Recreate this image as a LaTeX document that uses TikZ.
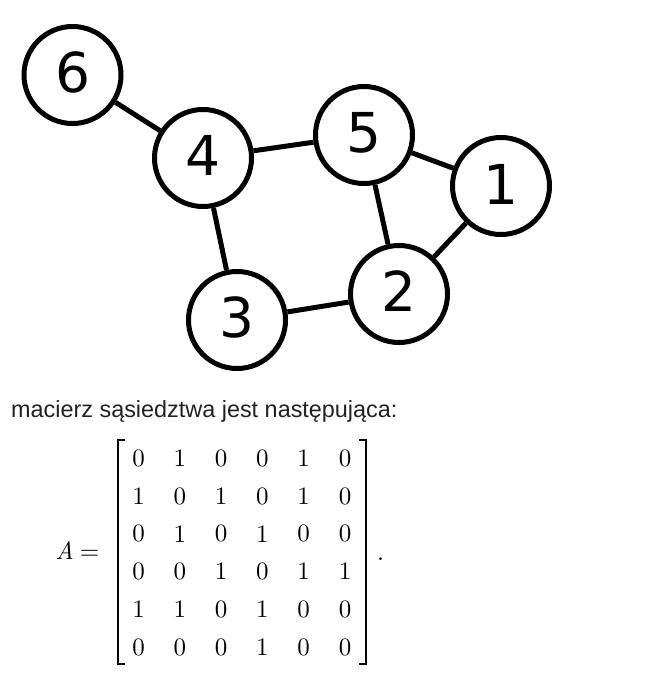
\documentclass[tikz,border=0pt]{standalone}
\usepackage{fontspec}
\newfontfamily\arialf{Liberation Sans}
\newfontfamily\dejavu{DejaVu Sans}
\newfontfamily\lmr{lmroman10-regular}[Extension=.otf,ItalicFont=lmroman10-italic]
\definecolor{txtgray}{HTML}{202122}
\begin{document}
\begin{tikzpicture}[x=1pt,y=-1pt,
  vert/.style={circle,draw,line width=5pt,minimum size=97pt,inner sep=0pt,fill=white,
    font=\dejavu\fontsize{55}{60}\selectfont},
  edge/.style={line width=5pt},
  cell/.style={inner sep=0pt,anchor=center,font=\lmr\fontsize{25}{28}\selectfont},
  brk/.style={line width=2pt}]
\useasboundingbox (0,0) rectangle (668,687);
% graph
\node[vert] (n6) at (72.5,75) {\raisebox{5pt}{6}};
\node[vert] (n4) at (203,158) {\raisebox{5pt}{4}};
\node[vert] (n5) at (364,135) {\raisebox{5pt}{5}};
\node[vert] (n1) at (501,186) {\raisebox{4pt}{1}};
\node[vert] (n2) at (399,294) {\raisebox{5pt}{2}};
\node[vert] (n3) at (237,320) {\raisebox{6pt}{3}};
\draw[edge] (n6) -- (n4);
\draw[edge] (n4) -- (n5);
\draw[edge] (n4) -- (n3);
\draw[edge] (n5) -- (n1);
\draw[edge] (n5) -- (n2);
\draw[edge] (n1) -- (n2);
\draw[edge] (n3) -- (n2);
% sentence
\node[anchor=base west,inner sep=0pt,text=txtgray,font=\arialf\fontsize{23.4}{28}\selectfont] (txt) at (11,417) {macierz sąsiedztwa jest następująca:};
% matrix
\node[anchor=base east,inner sep=0pt,font=\lmr\fontsize{25}{28}\selectfont] (lhs) at (99.5,559) {\textit{A}\hspace{6pt}=};
\foreach \row [count=\i] in {{0,1,0,0,1,0},{1,0,1,0,1,0},{0,1,0,1,0,0},{0,0,1,0,1,1},{1,1,0,1,0,0},{0,0,0,1,0,0}}{
  \foreach \v [count=\j] in \row {
    \node[cell] (m\i\j) at ({138.5+41.3*(\j-1)},{458.5+37.7*(\i-1)}) {\v};
  }
}
\draw[brk] (125,440) -- (118,440) -- (118,664) -- (125,664);
\draw[brk] (359,440) -- (366,440) -- (366,664) -- (359,664);
\node[anchor=base west,inner sep=0pt,font=\lmr\fontsize{25}{28}\selectfont] (dot) at (377,560) {.};
\end{tikzpicture}
\end{document}
